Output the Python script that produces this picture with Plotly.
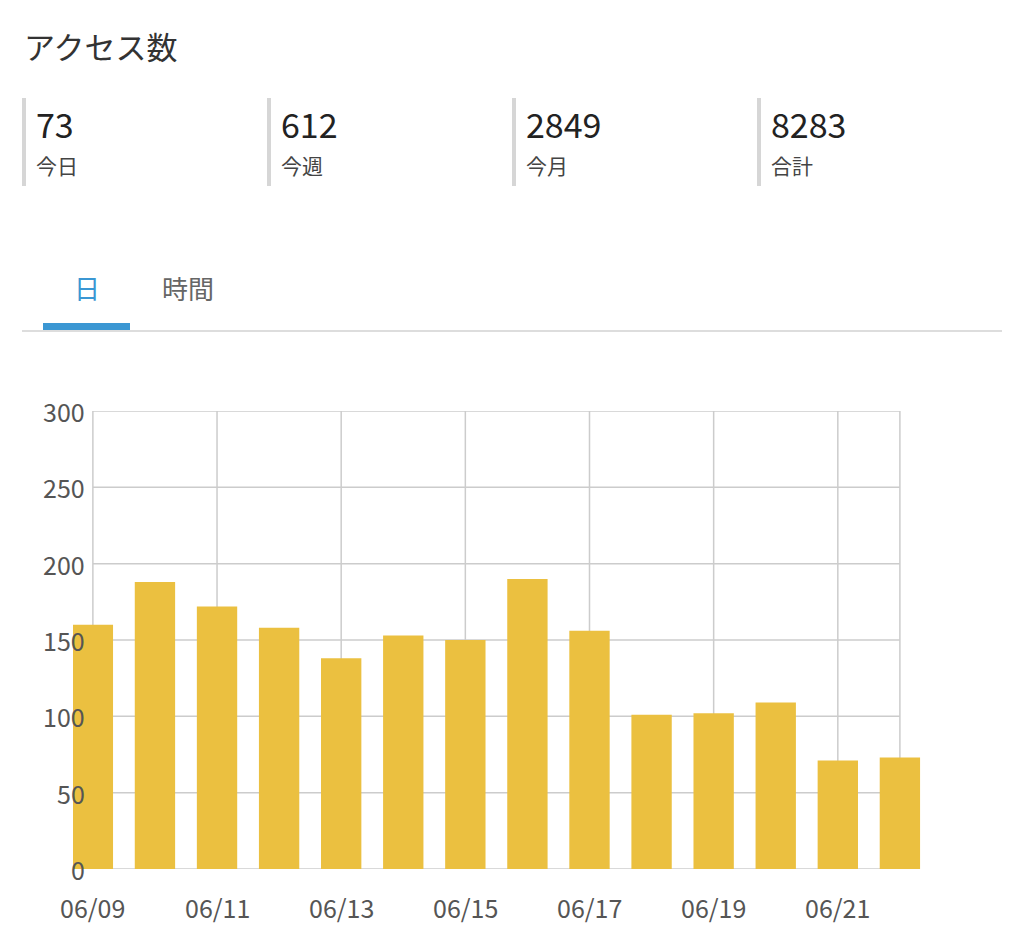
import plotly.graph_objects as go

dates = ["06/09","06/10","06/11","06/12","06/13","06/14","06/15","06/16","06/17","06/18","06/19","06/20","06/21","06/22"]
values = [160, 188, 172, 158, 138, 153, 150, 190, 156, 101, 102, 109, 71, 73]
stat_values = ["73", "612", "2849", "8283"]
stat_labels = ["今日", "今週", "今月", "合計"]
y_ticks = [0, 50, 100, 150, 200, 250, 300]

OFF = 8
W, H = 1024 - 2 * OFF, 941 - 2 * OFF
FONT = "Noto Sans CJK JP"
def px(x): return (x - OFF) / W
def py(y): return 1 - (y - OFF) / H

xs = list(range(len(dates)))
fig = go.Figure(go.Bar(x=xs, y=values, marker_color="#ebc040", marker_line_width=0, hoverinfo="skip"))

shapes, ann = [], []
last = len(dates) - 1
grid = "#cccccc"
for v in y_ticks:
    shapes.append(dict(type="line", xref="x", yref="y", x0=0, x1=last, y0=v, y1=v,
                       line=dict(color=grid, width=1.5), layer="below"))
    ann.append(dict(xref="x", yref="y", x=0, y=v, text=str(v), showarrow=False, xanchor="right",
                    xshift=-6, font=dict(size=25, color="#555", family=FONT)))
for i in list(range(0, len(dates), 2)) + [last]:
    shapes.append(dict(type="line", xref="x", yref="y", x0=i, x1=i, y0=0, y1=300,
                       line=dict(color=grid, width=1.5), layer="below"))
for i in range(0, len(dates), 2):
    ann.append(dict(xref="x", yref="paper", x=i, y=py(907), text=dates[i], showarrow=False,
                    xanchor="center", yanchor="middle", font=dict(size=25, color="#555", family=FONT)))

ann.append(dict(xref="paper", yref="paper", x=px(22), y=py(45), text="アクセス数", showarrow=False,
                xanchor="left", yanchor="middle", font=dict(size=31, color="#333", family=FONT)))
for k, (sv, sl) in enumerate(zip(stat_values, stat_labels)):
    x0 = 22 + k * 245
    shapes.append(dict(type="rect", xref="paper", yref="paper", x0=px(x0), x1=px(x0 + 4),
                       y0=py(186), y1=py(98), fillcolor="#d6d6d6", line_width=0))
    ann.append(dict(xref="paper", yref="paper", x=px(x0 + 12), y=py(123), text=sv, showarrow=False,
                    xanchor="left", yanchor="middle", font=dict(size=34, color="#222", family=FONT)))
    ann.append(dict(xref="paper", yref="paper", x=px(x0 + 12), y=py(165), text=sl, showarrow=False,
                    xanchor="left", yanchor="middle", font=dict(size=21, color="#444", family=FONT)))

ann.append(dict(xref="paper", yref="paper", x=px(87), y=py(287), text="日", showarrow=False,
                xanchor="center", yanchor="middle", font=dict(size=26, color="#3b97d3", family=FONT)))
ann.append(dict(xref="paper", yref="paper", x=px(188), y=py(287), text="時間", showarrow=False,
                xanchor="center", yanchor="middle", font=dict(size=26, color="#666", family=FONT)))
shapes.append(dict(type="line", xref="paper", yref="paper", x0=px(22), x1=px(1002), y0=py(331), y1=py(331),
                   line=dict(color="#dddddd", width=2)))
shapes.append(dict(type="rect", xref="paper", yref="paper", x0=px(43), x1=px(130), y0=py(330), y1=py(323),
                   fillcolor="#3b97d3", line_width=0))

fig.update_layout(
    width=W, height=H, margin=dict(l=0, r=0, t=0, b=0),
    paper_bgcolor="white", plot_bgcolor="white", showlegend=False, bargap=0.35,
    xaxis=dict(domain=[px(73), px(921)], range=[-0.32, last + 0.34], showgrid=False,
               showticklabels=False, zeroline=False, fixedrange=True),
    yaxis=dict(domain=[py(869), py(411)], range=[0, 300], showgrid=False,
               showticklabels=False, zeroline=False, fixedrange=True),
    shapes=shapes, annotations=ann,
)
fig.write_html("out.html")
